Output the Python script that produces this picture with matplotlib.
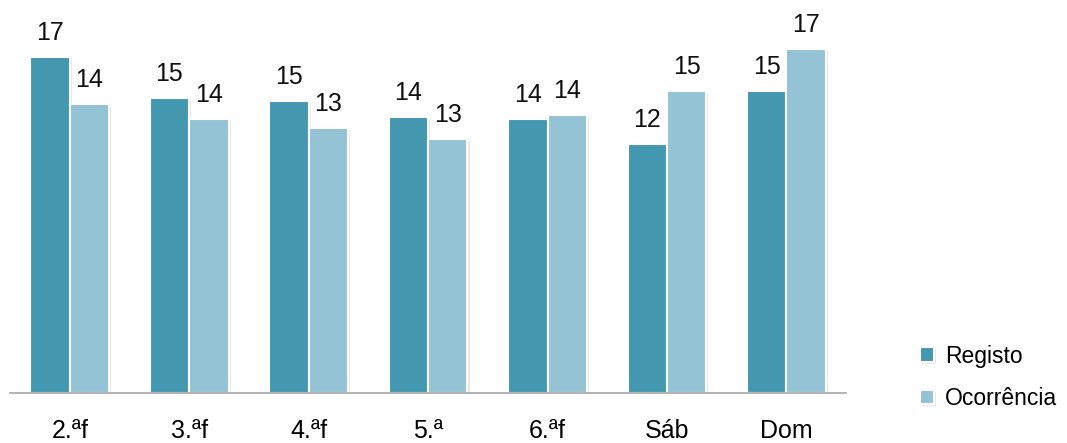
import matplotlib.pyplot as plt
import matplotlib.patheffects as pe
import numpy as np

plt.rcParams['font.family'] = ['Liberation Sans', 'DejaVu Sans']

dias = ['2.ªf', '3.ªf', '4.ªf', '5.ª', '6.ªf', 'Sáb', 'Dom']
registo = [16.8, 14.75, 14.6, 13.8, 13.7, 12.45, 15.1]
ocorrencia = [14.45, 13.7, 13.25, 12.7, 13.9, 15.1, 17.2]

cor_reg = '#4398B0'
cor_oco = '#93C3D5'

fig = plt.figure(figsize=(10.67, 4.43), dpi=100)
ax = fig.add_axes([0.0094, 0.113, 0.7836, 0.835])

x = np.arange(len(dias))
w = 0.33
sombra = [pe.SimplePatchShadow(offset=(1.5, -1.5), shadow_rgbFace='#d8d8d8', alpha=0.6), pe.Normal()]
b1 = ax.bar(x - w / 2, registo, w, color=cor_reg, edgecolor='white', linewidth=1.5,
            label='Registo', path_effects=sombra)
b2 = ax.bar(x + w / 2, ocorrencia, w, color=cor_oco, edgecolor='white', linewidth=1.5,
            label='Ocorrência', path_effects=sombra)

for barras, vals in [(b1, registo), (b2, ocorrencia)]:
    for b, v in zip(barras, vals):
        ax.annotate(f'{round(v):d}', (b.get_x() + b.get_width() / 2, v),
                    xytext=(0, 9), textcoords='offset points',
                    ha='center', va='bottom', fontsize=18, color='#111111',
                    annotation_clip=False)

ax.set_xlim(-0.5, len(dias) - 0.5)
ax.set_ylim(0, 18.5)
ax.set_xticks(x)
ax.set_xticklabels(dias, fontsize=18)
ax.tick_params(axis='x', length=0, pad=19)
ax.set_yticks([])
for s in ['top', 'right', 'left']:
    ax.spines[s].set_visible(False)
ax.spines['bottom'].set_color('#a6a6a6')
ax.spines['bottom'].set_linewidth(1.2)

fig.legend(handles=[b1, b2], loc='center left', bbox_to_anchor=(0.843, 0.148),
           frameon=False, fontsize=16.5, handlelength=0.6, handleheight=0.6,
           handletextpad=0.5, labelspacing=0.85)

fig.savefig('out.png', dpi=100)
